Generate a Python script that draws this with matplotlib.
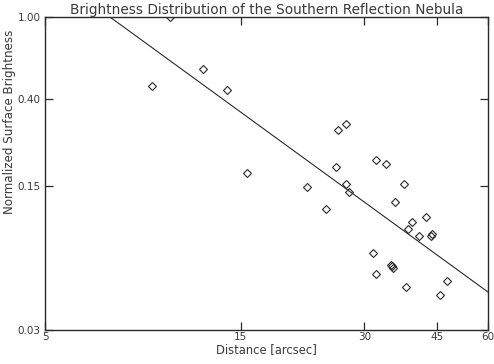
import matplotlib
matplotlib.use("Agg")
import matplotlib.pyplot as plt
import numpy as np

# Data (distance in arcsec, normalized brightness)
distance = [10.08, 12.15, 9.13, 13.90, 15.50, 27.00, 25.82, 31.94, 33.79, 25.53,
            21.70, 27.04, 27.50, 24.17, 37.51, 35.60, 42.43, 39.22, 38.35, 40.73,
            43.80, 43.56, 31.46, 34.81, 35.26, 34.95, 31.94, 47.56, 37.86, 45.88]
brightness = [1.00, 0.5565, 0.4615, 0.4413, 0.1736, 0.3015, 0.2810, 0.2014, 0.1926, 0.1868,
              0.1494, 0.1534, 0.1403, 0.1159, 0.1534, 0.1263, 0.1067, 0.1009, 0.0933, 0.0857,
              0.0879, 0.0863, 0.0713, 0.0621, 0.0603, 0.0615, 0.0560, 0.0519, 0.0484, 0.0442]

# Power-law fit line: B = fit_norm * (d / fit_ref) ** fit_index
fit_ref = 60.0
fit_norm = 0.0459
fit_index = -1.453

x_ticks = [5, 15, 30, 45, 60]
x_tick_labels = ["5", "15", "30", "45", "60"]
y_ticks = [0.03, 0.15, 0.40, 1.00]
y_tick_labels = ["0.03", "0.15", "0.40", "1.00"]

txt = "#3a3a3a"
ink = "#2a2a2a"

fig = plt.figure(figsize=(4.94, 3.64), dpi=100)
ax = fig.add_axes([45/494, 34/364, 443/494, 313/364])
ax.set_xscale("log")
ax.set_yscale("log")
ax.set_xlim(5, 60)
ax.set_ylim(0.03, 1.0)

xl = np.array([5.0, 60.0])
ax.plot(xl, fit_norm * (xl / fit_ref) ** fit_index, color=ink, lw=0.8)
ax.plot(distance, brightness, linestyle="none", marker="D", markersize=4.2,
        markerfacecolor="none", markeredgecolor=ink, markeredgewidth=0.8)

ax.xaxis.set_major_locator(matplotlib.ticker.FixedLocator(x_ticks))
ax.xaxis.set_minor_locator(matplotlib.ticker.NullLocator())
ax.set_xticklabels(x_tick_labels)
ax.yaxis.set_major_locator(matplotlib.ticker.FixedLocator(y_ticks))
ax.yaxis.set_minor_locator(matplotlib.ticker.NullLocator())
ax.set_yticklabels(y_tick_labels)

ax.tick_params(which="both", direction="in", top=True, right=True, length=6,
               width=0.9, color=ink, labelsize=7.5, labelcolor=txt, pad=3)
ax.tick_params(axis="x", pad=1.5)
for s in ax.spines.values():
    s.set_linewidth(1.0)
    s.set_color(ink)

ax.set_xlabel("Distance [arcsec]", fontsize=8.3, color=txt, labelpad=1)
ax.set_ylabel("Normalized Surface Brightness", fontsize=8.6, color=txt)
ax.yaxis.set_label_coords(-0.065, 0.665)
ax.set_title("Brightness Distribution of the Southern Reflection Nebula",
             fontsize=9.8, color=txt, pad=2)

fig.savefig("out.png", dpi=100)
